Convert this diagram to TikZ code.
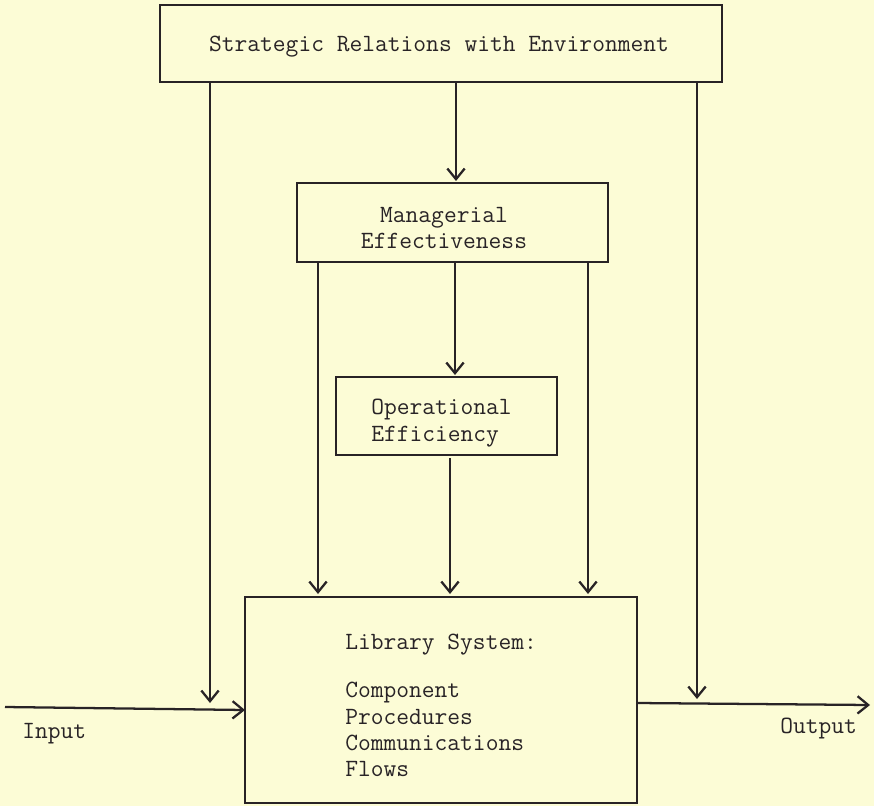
\documentclass[tikz,border=0pt]{standalone}
\usetikzlibrary{arrows.meta}
\definecolor{paper}{RGB}{252,252,214}
\definecolor{ink}{RGB}{40,35,38}
\begin{document}
\begin{tikzpicture}[x=0.75pt,y=-0.75pt,
  ink line/.style={draw=ink,line width=1.7pt},
  block/.style={ink line,rectangle,inner sep=0pt},
  label/.style={text=ink,font=\ttfamily\fontsize{18.6}{19.8}\selectfont,inner sep=0pt},
  flow/.style={ink line,-{Straight Barb[length=8pt,width=13pt,line width=1.7pt]}},
  every node/.style={text=ink}]
% page
\fill[paper] (0,0) rectangle (874,806);
\useasboundingbox (0,0) rectangle (874,806);

% boxes
\draw[block] (160,5) rectangle (722,82);
\node[label] (stratT) at (439,47) {Strategic Relations with Environment};

\draw[block] (297,183) rectangle (608,262);
\node[label,align=center] (manT) at (444,228) {Managerial\\Effectiveness};

\draw[block] (336,377) rectangle (557,455);
\node[label,align=left,anchor=north west] (opT) at (371,399) {Operational\\Efficiency};

\draw[block] (245,597) rectangle (637,803);
\node[label,anchor=north west] (libT) at (345,634) {Library System:};
\node[label,anchor=north west,align=left] (libL) at (345,682)
  {Component\\Procedures\\Communications\\Flows};

% named points where the connectors start and end
\coordinate (s1) at (210,82);  \coordinate (e1) at (210,703);
\coordinate (s2) at (456,82);  \coordinate (e2) at (456,181);
\coordinate (s3) at (697,82);  \coordinate (e3) at (697,699);
\coordinate (m1) at (318,262); \coordinate (f1) at (318,594);
\coordinate (m2) at (455,262); \coordinate (f2) at (455,375);
\coordinate (m3) at (588,262); \coordinate (f3) at (588,594);
\coordinate (o1) at (450,458); \coordinate (g1) at (450,594);
\coordinate (inA) at (5,707);  \coordinate (inB) at (245,710);
\coordinate (outA) at (637,703); \coordinate (outB) at (870,705);

% connectors
\draw[flow] (s1) -- (e1);
\draw[flow] (s2) -- (e2);
\draw[flow] (s3) -- (e3);
\draw[flow] (m1) -- (f1);
\draw[flow] (m2) -- (f2);
\draw[flow] (m3) -- (f3);
\draw[flow] (o1) -- (g1);
\draw[flow] (inA) -- (inB);
\draw[flow] (outA) -- (outB);

% input / output labels
\node[label,anchor=west] (inT) at (22,734) {Input};
\node[label,anchor=west] (outT) at (780,729) {Output};
\end{tikzpicture}
\end{document}
